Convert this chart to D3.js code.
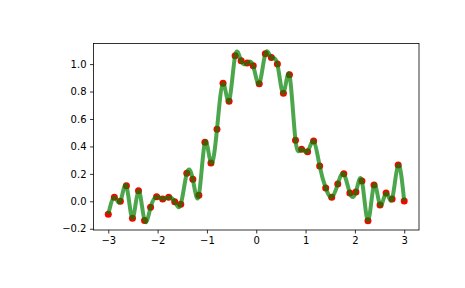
<!DOCTYPE html>
<html>
<head>
<meta charset="utf-8">
<script src="https://cdn.jsdelivr.net/npm/d3@7"></script>
<style>
  body { margin: 0; background: #fff; }
  .axis text { font-family: "DejaVu Sans", sans-serif; font-size: 10px; fill: #000; }
  .axis line, .axis path { stroke: #000; stroke-width: 0.8; }
</style>
</head>
<body>
<div id="container"></div>
<script>
// 50 sample points, x = linspace(-3, 3, 50)
var xStart = -3, xEnd = 3, nPoints = 50;
var yValues = [-0.095, 0.03, 0.0, 0.114, -0.124, 0.077, -0.139, -0.044, 0.034, 0.017,
               0.029, -0.003, -0.022, 0.204, 0.16, 0.044, 0.43, 0.28, 0.525, 0.86,
               0.73, 1.06, 1.024, 1.007, 0.987, 0.856, 1.075, 1.048, 1.0, 0.788,
               0.922, 0.445, 0.38, 0.362, 0.44, 0.258, 0.097, 0.029, 0.126, 0.2,
               0.06, 0.068, 0.148, -0.141, 0.119, -0.027, 0.06, 0.017, 0.265, 0.002];
var xTicks = [-3, -2, -1, 0, 1, 2, 3];
var yTicks = [-0.2, 0.0, 0.2, 0.4, 0.6, 0.8, 1.0];

var data = yValues.map(function(v, i) {
  return {x: xStart + i * (xEnd - xStart) / (nPoints - 1), y: v};
});

var margin = {top: 43.5, right: 46, bottom: 58, left: 93.5},
    width = 465 - margin.left - margin.right,
    height = 288 - margin.top - margin.bottom;

// scales
var xScale = d3.scaleLinear()
  .domain([-3.3, 3.3])
  .range([0, width]);

var yScale = d3.scaleLinear()
  .domain([-0.209, 1.15])
  .range([height, 0]);

var svg = d3.select("#container")
  .append("svg")
    .attr("width", 465)
    .attr("height", 288);

var g = svg.append("g")
  .attr("transform", "translate(" + margin.left + "," + margin.top + ")");

// red markers first, spline drawn over them
g.selectAll(".dot")
  .data(data)
  .enter()
  .append("circle")
    .attr("class", "dot")
    .attr("cx", function(d) { return xScale(d.x); })
    .attr("cy", function(d) { return yScale(d.y); })
    .attr("r", 3.5)
    .attr("fill", "#ff0000");

var line = d3.line()
  .x(function(d) { return xScale(d.x); })
  .y(function(d) { return yScale(d.y); })
  .curve(d3.curveNatural);

g.append("path")
  .datum(data)
  .attr("d", line)
  .attr("fill", "none")
  .attr("stroke", "#008000")
  .attr("stroke-opacity", 0.7)
  .attr("stroke-width", 4);

// frame
g.append("rect")
  .attr("width", width)
  .attr("height", height)
  .attr("fill", "none")
  .attr("stroke", "#000")
  .attr("stroke-width", 0.8);

var formatY = function(d) { return d3.format(".1f")(d).replace("-", "\u2212"); };
var formatX = function(d) { return String(d).replace("-", "\u2212"); };

g.append("g")
  .attr("class", "x axis")
  .attr("transform", "translate(0," + height + ")")
  .call(d3.axisBottom(xScale).tickValues(xTicks).tickSize(3.5).tickPadding(3.5).tickFormat(formatX))
  .call(function(a) { a.select(".domain").remove(); });

g.append("g")
  .attr("class", "y axis")
  .call(d3.axisLeft(yScale).tickValues(yTicks).tickSize(3.5).tickPadding(3.5).tickFormat(formatY))
  .call(function(a) { a.select(".domain").remove(); });
</script>
</body>
</html>
